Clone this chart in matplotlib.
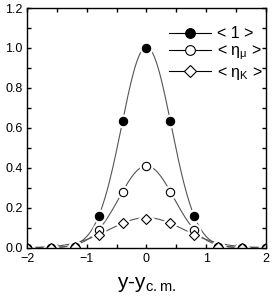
import numpy as np
import matplotlib
matplotlib.use('Agg')
import matplotlib.pyplot as plt
from matplotlib.ticker import MultipleLocator

plt.rcParams['font.family'] = ['Liberation Sans', 'DejaVu Sans']

# data
x = np.array([-2.0, -1.6, -1.2, -0.8, -0.4, 0.0, 0.4, 0.8, 1.2, 1.6, 2.0])
y_one = np.array([0.0, 0.0, 0.005, 0.158, 0.635, 1.0, 0.635, 0.158, 0.005, 0.0, 0.0])
y_mu = np.array([0.0, 0.0, 0.004, 0.09, 0.28, 0.41, 0.28, 0.09, 0.004, 0.0, 0.0])
y_k = np.array([0.0, 0.0, 0.003, 0.065, 0.125, 0.145, 0.125, 0.065, 0.003, 0.0, 0.0])
labels = ['< 1 >', r'< $\mathregular{\eta_{\mu}}$ >', r'< $\mathregular{\eta_{K}}$ >']

def gauss_fit(xs, ys):
    # gaussian fit: polyfit of log(y) on points with clear signal
    m = ys > 0.05
    c = np.polyfit(xs[m], np.log(ys[m]), 2)
    xx = np.linspace(-2, 2, 400)
    return xx, np.exp(np.polyval(c, xx))

fig = plt.figure(figsize=(2.73, 3.02), dpi=100)
ax = fig.add_axes([0.099, 0.18, 0.875, 0.7935])

lc = '#555555'
series = [(y_one, 'o', 'black'), (y_mu, 'o', 'white'), (y_k, 'D', 'white')]
for (ys, mk, fc), lab in zip(series, labels):
    xx, yy = gauss_fit(x, ys)
    ax.plot(xx, yy, color=lc, lw=0.8, zorder=2)
    ms = 6 if mk == 'o' else 5.2
    # white halo so the line breaks around each symbol
    ax.plot(x, ys, ls='none', marker=mk, ms=ms + 3, mfc='white', mec='white', zorder=3)
    ax.plot(x, ys, ls='none', marker=mk, ms=ms, mfc=fc, mec='black', mew=0.8, zorder=4)
    ax.plot([], [], color='black', lw=0.8, marker=mk, ms=ms + 1, mfc=fc, mec='black', mew=0.8, label=lab)

ax.set_xlim(-2, 2)
ax.set_ylim(0, 1.2)
ax.xaxis.set_major_locator(MultipleLocator(1))
ax.xaxis.set_minor_locator(MultipleLocator(0.5))
ax.yaxis.set_major_locator(MultipleLocator(0.2))
ax.yaxis.set_minor_locator(MultipleLocator(0.1))
ax.yaxis.set_major_formatter(plt.FuncFormatter(lambda v, p: f'{v:.1f}'))
ax.tick_params(which='both', direction='in', top=True, right=True, length=3, width=1, labelsize=9, pad=3)
ax.tick_params(axis='x', pad=4)
for s in ax.spines.values():
    s.set_linewidth(1)
    s.set_zorder(5)

ax.set_xlabel(r'y-y$_{\mathregular{c.m.}}$', fontsize=15, labelpad=7)

ax.legend(loc='upper right', frameon=False, fontsize=11.5, handlelength=2.6, handletextpad=0.4,
          labelspacing=0.15, borderaxespad=0.0, bbox_to_anchor=(1.015, 0.95))

fig.savefig('out.png', dpi=100)
